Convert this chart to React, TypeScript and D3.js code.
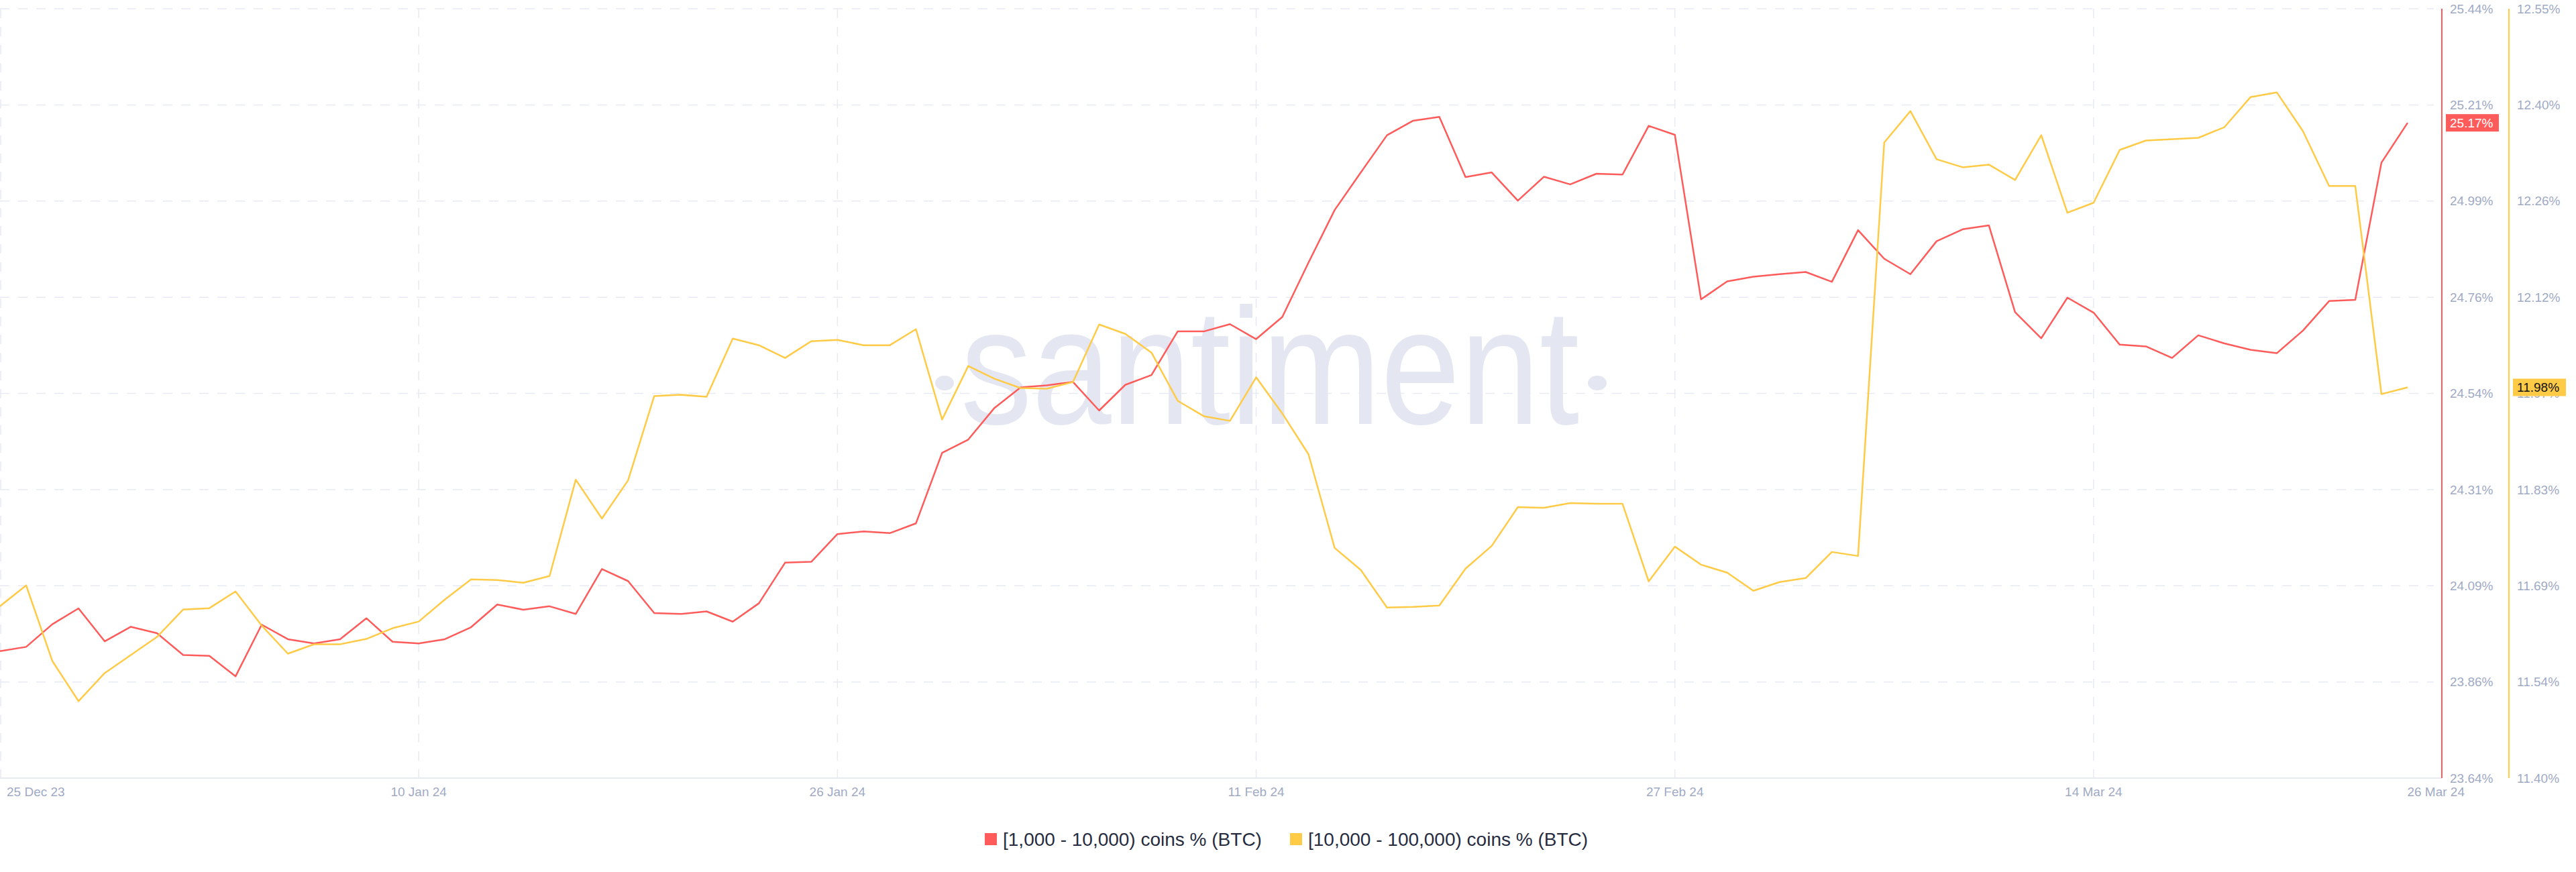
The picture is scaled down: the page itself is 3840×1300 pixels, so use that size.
import { useRef, useEffect } from 'react'
import * as d3 from 'd3'

// daily points, 25 Dec 23 -> 26 Mar 24
const startDate = '2023-12-25'

// [1,000 - 10,000) coins % (BTC)
const holders1k = [
  23.937, 23.947, 24.0, 24.037, 23.96, 23.994, 23.979, 23.928, 23.926, 23.878,
  23.999, 23.965, 23.955, 23.965, 24.014, 23.959, 23.955, 23.965, 23.993, 24.046,
  24.034, 24.042, 24.024, 24.129, 24.101, 24.026, 24.024, 24.03, 24.006, 24.049,
  24.144, 24.146, 24.211, 24.217, 24.213, 24.236, 24.401, 24.432, 24.506, 24.554,
  24.559, 24.567, 24.5, 24.56, 24.583, 24.685, 24.685, 24.702, 24.667, 24.719,
  24.846, 24.969, 25.057, 25.144, 25.178, 25.187, 25.046, 25.057, 24.991, 25.047,
  25.029, 25.054, 25.052, 25.166, 25.145, 24.76, 24.802, 24.813, 24.819, 24.824,
  24.801, 24.922, 24.855, 24.819, 24.896, 24.924, 24.933, 24.73, 24.669, 24.764,
  24.729, 24.654, 24.65, 24.623, 24.676, 24.657, 24.642, 24.634, 24.687, 24.756,
  24.759, 25.08, 25.173,
]

// [10,000 - 100,000) coins % (BTC)
const holders10k = [
  11.657, 11.688, 11.575, 11.515, 11.557, 11.584, 11.611, 11.652, 11.654, 11.679,
  11.628, 11.586, 11.6, 11.6, 11.608, 11.624, 11.634, 11.667, 11.697, 11.696,
  11.692, 11.702, 11.846, 11.788, 11.845, 11.971, 11.973, 11.97, 12.057, 12.047,
  12.028, 12.053, 12.055, 12.047, 12.047, 12.071, 11.936, 12.016, 11.997, 11.983,
  11.982, 11.992, 12.078, 12.064, 12.036, 11.964, 11.941, 11.934, 11.999, 11.945,
  11.884, 11.744, 11.711, 11.655, 11.656, 11.658, 11.713, 11.747, 11.805, 11.804,
  11.811, 11.81, 11.81, 11.694, 11.746, 11.719, 11.707, 11.68, 11.693, 11.699,
  11.738, 11.732, 12.35, 12.397, 12.325, 12.313, 12.317, 12.294, 12.361, 12.245,
  12.26, 12.339, 12.353, 12.355, 12.357, 12.373, 12.418, 12.425, 12.367, 12.285,
  12.285, 11.974, 11.984,
]

const seriesNames = ['[1,000 - 10,000) coins % (BTC)', '[10,000 - 100,000) coins % (BTC)']
const seriesColors = ['#ff5b5b', '#ffcb47']

const xTickDates = ['2023-12-25', '2024-01-10', '2024-01-26', '2024-02-11', '2024-02-27', '2024-03-14', '2024-03-26']

const redDomain = [23.64, 25.44]
const yellowDomain = [11.4, 12.55]
const redTickLabels = ['23.64%', '23.86%', '24.09%', '24.31%', '24.54%', '24.76%', '24.99%', '25.21%', '25.44%']
const yellowTickLabels = ['11.40%', '11.54%', '11.69%', '11.83%', '11.97%', '12.12%', '12.26%', '12.40%', '12.55%']
const lastLabels = ['25.17%', '11.98%']

export default function App() {
  const svgRef = useRef<SVGSVGElement>(null)

  useEffect(() => {
    if (!svgRef.current) return
    const svg = d3.select(svgRef.current)
    svg.selectAll('*').remove()

    const top = 13
    const bottom = 1160
    const redAxisX = 3640
    const yellowAxisX = 3740
    const gridColor = '#e7eaf3'
    const textColor = '#9faac4'
    const font = '"Liberation Sans", Arial, sans-serif'

    const start = d3.utcParse('%Y-%m-%d')(startDate) as Date
    const dates = holders1k.map((_, i) => d3.utcDay.offset(start, i))

    const x = d3.scaleUtc()
      .domain([dates[0], dates[dates.length - 1]])
      .range([0, 3589])

    const yRed = d3.scaleLinear().domain(redDomain).range([bottom, top])
    const yYellow = d3.scaleLinear().domain(yellowDomain).range([bottom, top])
    const tickVals = d3.range(9).map(i => redDomain[0] + (i * (redDomain[1] - redDomain[0])) / 8)

    svg.append('rect').attr('width', 3840).attr('height', 1300).attr('fill', '#fff')

    // horizontal grid
    svg.append('g')
      .selectAll('line')
      .data(tickVals)
      .enter()
      .append('line')
      .attr('x1', 0)
      .attr('x2', 3628)
      .attr('y1', d => yRed(d))
      .attr('y2', d => yRed(d))
      .attr('stroke', gridColor)
      .attr('stroke-width', 1.5)
      .attr('stroke-dasharray', '14,13')

    // vertical grid
    const tickDates = xTickDates.map(d => d3.utcParse('%Y-%m-%d')(d) as Date)
    svg.append('g')
      .selectAll('line')
      .data(tickDates.slice(0, -1))
      .enter()
      .append('line')
      .attr('x1', d => Math.max(1, x(d)))
      .attr('x2', d => Math.max(1, x(d)))
      .attr('y1', top)
      .attr('y2', bottom)
      .attr('stroke', gridColor)
      .attr('stroke-width', 1.5)
      .attr('stroke-dasharray', '14,13')

    // watermark
    const wm = svg.append('g').attr('fill', '#e4e7f1')
    wm.append('text')
      .attr('x', 1432)
      .attr('y', 632)
      .attr('font-family', font)
      .attr('font-size', 247)
      .attr('textLength', 922)
      .attr('lengthAdjust', 'spacingAndGlyphs')
      .text('santiment')
    wm.append('ellipse').attr('cx', 1408).attr('cy', 571).attr('rx', 14).attr('ry', 11)
    wm.append('ellipse').attr('cx', 2381).attr('cy', 571).attr('rx', 14).attr('ry', 11)

    // x axis line
    svg.append('line')
      .attr('x1', 0)
      .attr('x2', redAxisX)
      .attr('y1', bottom)
      .attr('y2', bottom)
      .attr('stroke', gridColor)
      .attr('stroke-width', 2)

    // x labels
    const fmt = d3.utcFormat('%d %b %y')
    svg.append('g')
      .selectAll('text')
      .data(tickDates)
      .enter()
      .append('text')
      .attr('x', (d, i) => (i === 0 ? 10 : i === tickDates.length - 1 ? redAxisX + 34 : x(d)))
      .attr('y', 1187)
      .attr('text-anchor', (_, i) => (i === 0 ? 'start' : i === tickDates.length - 1 ? 'end' : 'middle'))
      .attr('fill', textColor)
      .attr('font-family', font)
      .attr('font-size', 19)
      .text(d => fmt(d))

    // lines
    const seriesList = [
      { values: holders1k, y: yRed },
      { values: holders10k, y: yYellow },
    ]
    seriesList.forEach((s, k) => {
      const line = d3.line<number>()
        .x((_, i) => x(dates[i]))
        .y(d => s.y(d))
      svg.append('path')
        .datum(s.values)
        .attr('d', line)
        .attr('fill', 'none')
        .attr('stroke', seriesColors[k])
        .attr('stroke-width', 2.5)
        .attr('stroke-linejoin', 'round')
    })

    // right axes
    const axes = [
      { ax: redAxisX, labels: redTickLabels, y: yRed, dom: redDomain },
      { ax: yellowAxisX, labels: yellowTickLabels, y: yYellow, dom: yellowDomain },
    ]
    axes.forEach((a, k) => {
      svg.append('line')
        .attr('x1', a.ax)
        .attr('x2', a.ax)
        .attr('y1', top)
        .attr('y2', bottom)
        .attr('stroke', seriesColors[k])
        .attr('stroke-width', 2)

      const vals = d3.range(9).map(i => a.dom[0] + (i * (a.dom[1] - a.dom[0])) / 8)
      svg.append('g')
        .selectAll('text')
        .data(vals)
        .enter()
        .append('text')
        .attr('x', a.ax + 12)
        .attr('y', d => a.y(d))
        .attr('dy', '0.35em')
        .attr('fill', textColor)
        .attr('font-family', font)
        .attr('font-size', 19)
        .text((_, i) => a.labels[i])

      // last value badge
      const last = seriesList[k].values[seriesList[k].values.length - 1]
      const by = a.y(last)
      svg.append('rect')
        .attr('x', a.ax + 6)
        .attr('y', by - 13)
        .attr('width', 79)
        .attr('height', 26)
        .attr('fill', seriesColors[k])
      svg.append('text')
        .attr('x', a.ax + 12)
        .attr('y', by)
        .attr('dy', '0.35em')
        .attr('fill', k === 0 ? '#fff' : '#111')
        .attr('font-family', font)
        .attr('font-size', 19)
        .text(lastLabels[k])
    })

    // legend
    const legendPos = [1468, 1923]
    seriesNames.forEach((name, k) => {
      const g = svg.append('g').attr('transform', `translate(${legendPos[k]}, 1242)`)
      g.append('rect')
        .attr('width', 18)
        .attr('height', 18)
        .attr('fill', seriesColors[k])
      g.append('text')
        .attr('x', 27)
        .attr('y', 9)
        .attr('dy', '0.35em')
        .attr('fill', '#272c3f')
        .attr('font-family', font)
        .attr('font-size', 28)
        .text(name)
    })
  }, [])

  return (
    <svg
      ref={svgRef}
      width={3840}
      height={1300}
      style={{ position: 'absolute', left: 0, top: 0, display: 'block' }}
    />
  )
}
